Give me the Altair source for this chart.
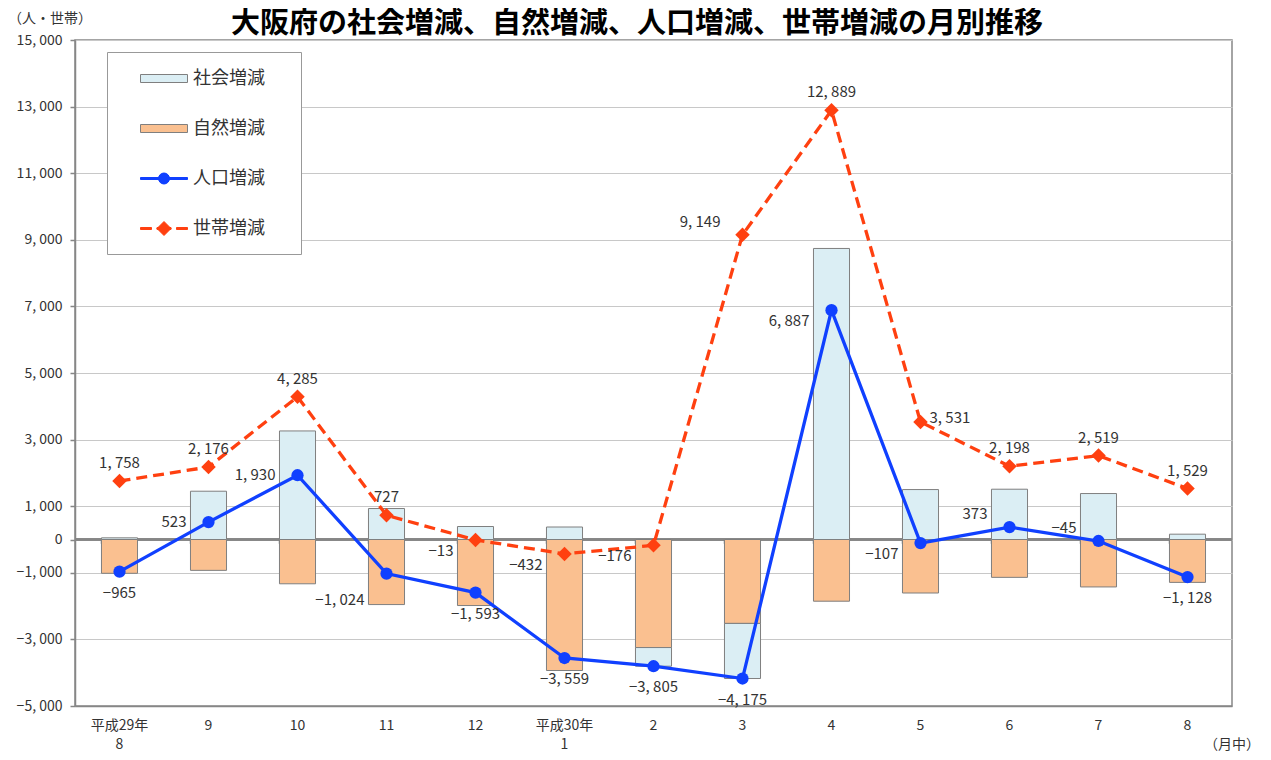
import altair as alt
import pandas as pd

# ---------------- data ----------------
months = ["平成29年\n8", "9", "10", "11", "12", "平成30年\n1", "2", "3", "4", "5", "6", "7", "8"]
social = [50, 1450, 3260, 930, 390, 375, -560, -1655, 8740, 1500, 1510, 1380, 160]
natural = [-1015, -927, -1330, -1954, -1983, -3934, -3245, -2520, -1853, -1607, -1137, -1425, -1288]
population = [-965, 523, 1930, -1024, -1593, -3559, -3805, -4175, 6887, -107, 373, -45, -1128]
households = [1758, 2176, 4285, 727, -13, -432, -176, 9149, 12889, 3531, 2198, 2519, 1529]
series_names = ["社会増減", "自然増減", "人口増減", "世帯増減"]
y_ticks = [-5000, -3000, -1000, 0, 1000, 3000, 5000, 7000, 9000, 11000, 13000, 15000]
title_text = "大阪府の社会増減、自然増減、人口増減、世帯増減の月別推移"
y_unit = "（人・世帯）"
x_unit = "（月中）"

# label placement codes (a=above, b=below, l=left, la=left-above, lb=left-below, lbb, r=right)
pop_label_pos = ["b", "l", "l", "lbb", "b", "b", "b", "b", "lb", "lb", "la", "la", "b"]
house_label_pos = ["a", "a", "a", "a", "lb", "lb", "lb", "la", "a", "r", "a", "a", "a"]

# ---------------- styles ----------------
FONT = "Noto Sans CJK JP"
BLUE = "#1040FF"
RED = "#FF4010"
SOC = "#DBEEF4"
NAT = "#FAC090"
GRAYLINE = "#868686"

placements = {
    "a": dict(align="center", dx=0, dy=-18),
    "b": dict(align="center", dx=0, dy=21),
    "l": dict(align="right", dx=-22, dy=0),
    "la": dict(align="right", dx=-22, dy=-13),
    "lb": dict(align="right", dx=-22, dy=11),
    "lbb": dict(align="right", dx=-22, dy=26),
    "r": dict(align="left", dx=9, dy=-4),
}

# ---------------- tables ----------------
bar_rows = []
for m, s, n in zip(months, social, natural):
    bar_rows.append({"month": m, "series": "自然増減", "value": n, "ord": 0})
    bar_rows.append({"month": m, "series": "社会増減", "value": s, "ord": 1})
bars_df = pd.DataFrame(bar_rows)

line_rows = []
for m, p, pos in zip(months, population, pop_label_pos):
    line_rows.append({"month": m, "series": "人口増減", "value": p, "pos": pos})
for m, h, pos in zip(months, households, house_label_pos):
    line_rows.append({"month": m, "series": "世帯増減", "value": h, "pos": pos})
lines_df = pd.DataFrame(line_rows)

# ---------------- encodings ----------------
x_axis = alt.Axis(
    title=None, labelExpr="split(datum.label, '\\n')", labelAngle=0,
    labelFontSize=14, labelColor="#333", labelLineHeight=19, labelPadding=12,
    ticks=False, domainColor=GRAYLINE, domainWidth=1.5, grid=False,
)
x_scale = alt.Scale(paddingInner=0.595, paddingOuter=0.2975)
x_enc = alt.X("month:N", sort=months, scale=x_scale, axis=x_axis)

y_scale = alt.Scale(domain=[-5000, 15000], nice=False, zero=False)
y_axis = alt.Axis(
    title=None, values=y_ticks,
    labelExpr="replace(format(datum.value, ','), ',', ', ')",
    labelFontSize=14, labelColor="#333", labelPadding=8,
    tickSize=5, tickColor=GRAYLINE, tickWidth=1.5,
    domainColor=GRAYLINE, domainWidth=1.5,
    grid=True, gridColor="#C8C8C8", gridWidth=1.2,
)
y_enc = alt.Y("value:Q", scale=y_scale, axis=y_axis)

fill_scale = alt.Scale(domain=series_names, range=[SOC, NAT, BLUE, RED])
stroke_scale = alt.Scale(domain=series_names, range=["#7F7F7F", "#7F7F7F", BLUE, RED])
shape_scale = alt.Scale(
    domain=series_names,
    range=[
        "M-2.35,-0.4H2.35V0.4H-2.35Z",
        "M-2.35,-0.4H2.35V0.4H-2.35Z",
        "M-2.35,-0.1H2.35V0.1H-2.35Z M0.55,0A0.55,0.55 0 1 1 -0.55,0A0.55,0.55 0 1 1 0.55,0Z",
        "M-2.35,-0.1H-1.25V0.1H-2.35Z M-0.7,-0.1H0.7V0.1H-0.7Z M1.25,-0.1H2.35V0.1H1.25Z "
        "M0,-0.7L0.7,0L0,0.7L-0.7,0Z",
    ],
)
legend_def = alt.Legend(
    title="あ", titleOrient="right", titleOpacity=0, titleFontSize=18, titlePadding=2,
    orient="none", legendX=32, legendY=12,
    padding=16, symbolOffset=30.5, labelOffset=18.5, rowPadding=30,
    symbolSize=400, symbolStrokeWidth=1,
    labelFontSize=18, labelColor="#333", labelFont=FONT,
    fillColor="white", strokeColor="#999999",
)

# ---------------- layers ----------------
zero_rule = alt.Chart(bars_df).mark_rule(color=GRAYLINE, strokeWidth=1.5).encode(
    y=alt.datum(0)
)

tick_marks = alt.Chart(lines_df).mark_rule(color=GRAYLINE, strokeWidth=1.2).encode(
    x=alt.X("month:N", sort=months, scale=x_scale, axis=x_axis, bandPosition=0),
    y=alt.datum(0),
    y2=alt.datum(-130),
)

bars = alt.Chart(bars_df).mark_bar(stroke="#7F7F7F", strokeWidth=1).encode(
    x=x_enc,
    y=alt.Y("value:Q", scale=y_scale, axis=y_axis, stack="zero"),
    fill=alt.Fill("series:N", scale=fill_scale, legend=legend_def),
    order=alt.Order("ord:Q"),
)

pop_df = lines_df[lines_df.series == "人口増減"]
house_df = lines_df[lines_df.series == "世帯増減"]

pop_line = alt.Chart(pop_df).mark_line(color=BLUE, strokeWidth=3.3).encode(x=x_enc, y=y_enc)
pop_pts = alt.Chart(pop_df).mark_point(
    shape="circle", filled=True, size=150, color=BLUE, opacity=1
).encode(x=x_enc, y=y_enc)

house_line = alt.Chart(house_df).mark_line(
    color=RED, strokeWidth=3.3, strokeDash=[11, 6]
).encode(x=x_enc, y=y_enc)
house_pts = alt.Chart(house_df).mark_point(
    shape="diamond", filled=True, size=210, color=RED, opacity=1
).encode(x=x_enc, y=y_enc)

label_layers = []
for code, opts in placements.items():
    label_layers.append(
        alt.Chart(lines_df)
        .transform_filter(alt.datum.pos == code)
        .transform_calculate(label="replace(format(datum.value, ','), ',', ', ')")
        .mark_text(baseline="middle", fontSize=15, color="#333", font=FONT, **opts)
        .encode(x=x_enc, y=y_enc, text="label:N")
    )

legend_layer = (
    alt.Chart(lines_df)
    .transform_filter("false")
    .mark_point(filled=True, opacity=1)
    .encode(
        x=x_enc, y=y_enc,
        fill=alt.Fill("series:N", scale=fill_scale, legend=legend_def),
        stroke=alt.Stroke("series:N", scale=stroke_scale, legend=legend_def),
        shape=alt.Shape("series:N", scale=shape_scale, legend=legend_def),
    )
)

title_layer = alt.Chart(pd.DataFrame({"t": [title_text]})).mark_text(
    fontSize=29, fontWeight="bold", color="#000", align="center", baseline="alphabetic", font=FONT
).encode(x=alt.value(562), y=alt.value(-7), text="t:N")

yunit_layer = alt.Chart(pd.DataFrame({"t": [y_unit]})).mark_text(
    fontSize=14, color="#333", align="left", baseline="middle", font=FONT
).encode(x=alt.value(-67), y=alt.value(-21), text="t:N")

xunit_layer = alt.Chart(pd.DataFrame({"t": [x_unit]})).mark_text(
    fontSize=14, color="#333", align="right", baseline="middle", font=FONT
).encode(x=alt.value(1185), y=alt.value(705), text="t:N")

chart = (
    alt.layer(
        zero_rule, tick_marks, bars, pop_line, pop_pts, house_line, house_pts,
        *label_layers, legend_layer, title_layer, yunit_layer, xunit_layer,
    )
    .properties(
        width=1157, height=666, autosize="none",
        padding={"left": 67, "top": 32, "right": 30, "bottom": 46},
    )
    .configure(font=FONT)
    .configure_view(stroke=GRAYLINE, strokeWidth=1.5)
)

chart.save("out.html", embed_options={"renderer": "svg", "actions": False})
